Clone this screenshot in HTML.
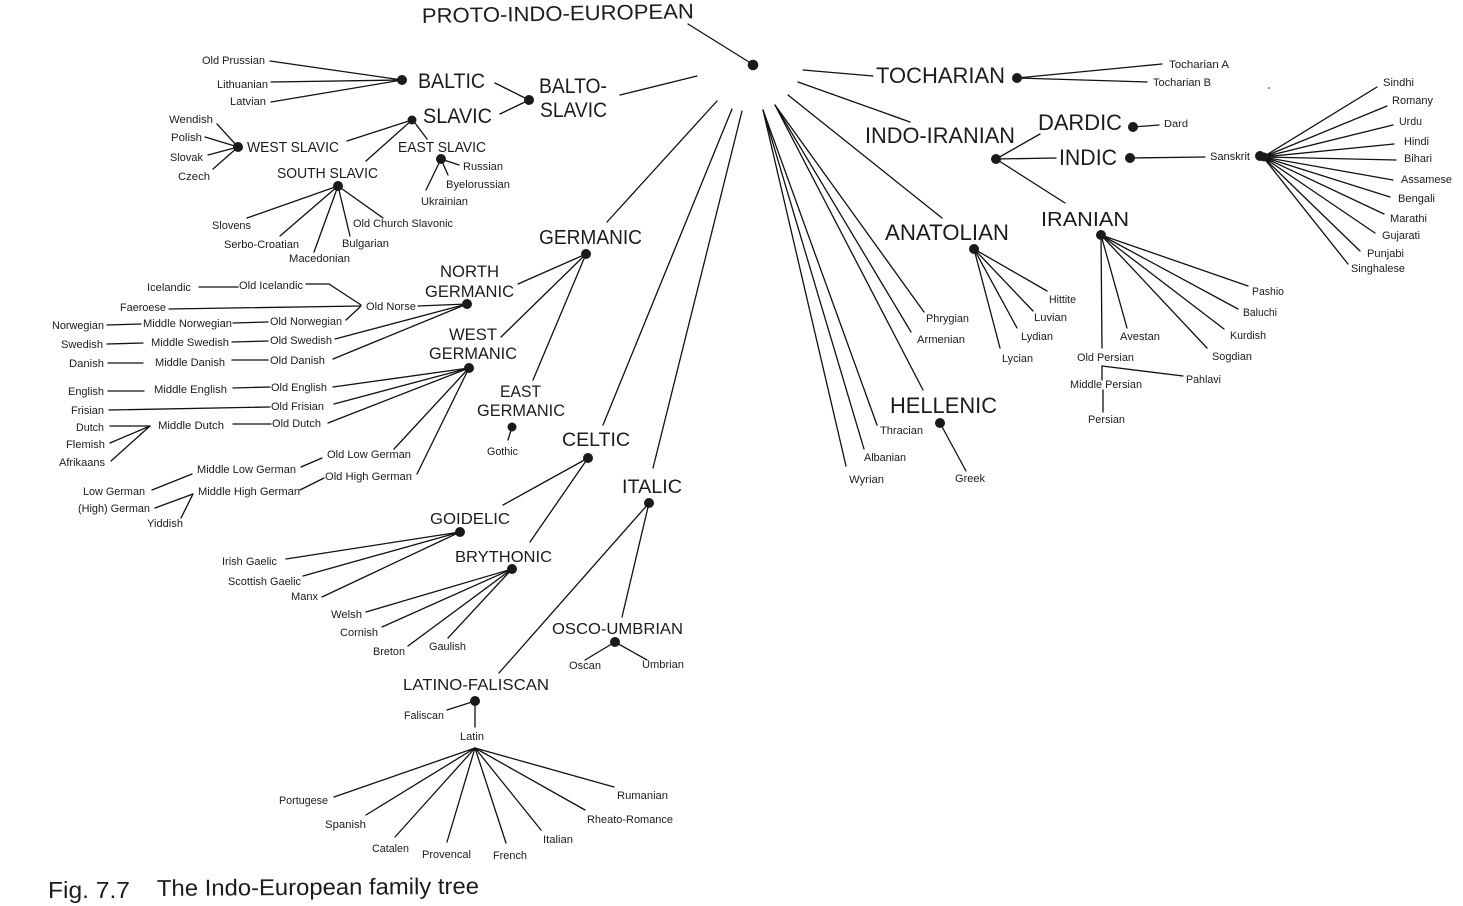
<!DOCTYPE html>
<html><head><meta charset="utf-8"><title>Indo-European family tree</title>
<style>
html,body{margin:0;padding:0;background:#fff;width:1463px;height:906px;overflow:hidden}
svg{display:block}
text{font-family:"Liberation Sans",Arial,sans-serif;fill:#1c1c1c}
.s{font-size:11px}
.t{font-size:15px}
.g{font-size:17px}
.b{font-size:21px}
.l line{stroke:#111;stroke-width:1.3;stroke-linecap:round}
.d circle{fill:#1a1a1a}
</style></head><body>
<svg xmlns="http://www.w3.org/2000/svg" width="1463" height="906" viewBox="0 0 1463 906">
<g class="l">
<line x1="688" y1="24" x2="749" y2="62"/><line x1="620" y1="95" x2="697" y2="76"/><line x1="607" y1="222" x2="717" y2="101"/><line x1="603" y1="425" x2="732" y2="109"/><line x1="653" y1="468" x2="742" y2="111"/>
<line x1="763" y1="110" x2="846" y2="466"/><line x1="763" y1="110" x2="864" y2="449"/><line x1="763" y1="110" x2="877" y2="425"/><line x1="775" y1="105" x2="923" y2="390"/><line x1="775" y1="105" x2="911" y2="332"/><line x1="775" y1="105" x2="924" y2="312"/><line x1="788" y1="95" x2="942" y2="218"/><line x1="798" y1="82" x2="910" y2="122"/><line x1="803" y1="70" x2="873" y2="76"/>
<line x1="1017" y1="78" x2="1162" y2="64"/><line x1="1017" y1="78" x2="1147" y2="82"/>
<line x1="996" y1="159" x2="1040" y2="134"/><line x1="996" y1="159" x2="1056" y2="158"/><line x1="996" y1="159" x2="1065" y2="203"/><line x1="1133" y1="127" x2="1159" y2="125"/><line x1="1130" y1="158" x2="1205" y2="157"/>
<line x1="1263" y1="157" x2="1377" y2="87"/><line x1="1263" y1="157" x2="1387" y2="106"/><line x1="1263" y1="157" x2="1393" y2="125"/><line x1="1263" y1="157" x2="1394" y2="144"/><line x1="1263" y1="157" x2="1396" y2="160"/><line x1="1263" y1="157" x2="1393" y2="180"/><line x1="1263" y1="157" x2="1390" y2="197"/><line x1="1263" y1="157" x2="1384" y2="214"/><line x1="1263" y1="157" x2="1375" y2="233"/><line x1="1263" y1="157" x2="1360" y2="251"/><line x1="1263" y1="157" x2="1348" y2="264"/>
<line x1="1101" y1="235" x2="1248" y2="286"/><line x1="1101" y1="235" x2="1238" y2="309"/><line x1="1101" y1="235" x2="1224" y2="329"/><line x1="1101" y1="235" x2="1207" y2="348"/><line x1="1101" y1="235" x2="1127" y2="328"/><line x1="1101" y1="235" x2="1102" y2="348"/>
<line x1="1102" y1="366" x2="1102" y2="380"/><line x1="1102" y1="366" x2="1183" y2="376"/><line x1="1103" y1="390" x2="1103" y2="412"/>
<line x1="974" y1="249" x2="1047" y2="291"/><line x1="974" y1="249" x2="1033" y2="311"/><line x1="974" y1="249" x2="1017" y2="328"/><line x1="974" y1="249" x2="1000" y2="348"/><line x1="940" y1="423" x2="966" y2="471"/>
<line x1="495" y1="83" x2="529" y2="100"/><line x1="500" y1="114" x2="529" y2="100"/>
<line x1="402" y1="80" x2="270" y2="61"/><line x1="402" y1="80" x2="271" y2="82"/><line x1="402" y1="80" x2="271" y2="102"/>
<line x1="412" y1="120" x2="347" y2="141"/><line x1="412" y1="120" x2="366" y2="161"/><line x1="415" y1="123" x2="427" y2="139"/>
<line x1="238" y1="147" x2="217" y2="124"/><line x1="238" y1="147" x2="205" y2="137"/><line x1="238" y1="147" x2="208" y2="155"/><line x1="238" y1="147" x2="213" y2="169"/>
<line x1="441" y1="159" x2="459" y2="165"/><line x1="441" y1="159" x2="448" y2="175"/><line x1="441" y1="159" x2="426" y2="190"/>
<line x1="338" y1="186" x2="247" y2="218"/><line x1="338" y1="186" x2="280" y2="236"/><line x1="338" y1="186" x2="314" y2="252"/><line x1="338" y1="186" x2="350" y2="236"/><line x1="338" y1="186" x2="383" y2="218"/>
<line x1="586" y1="254" x2="518" y2="284"/><line x1="586" y1="254" x2="501" y2="337"/><line x1="586" y1="254" x2="533" y2="380"/>
<line x1="467" y1="304" x2="418" y2="306"/><line x1="467" y1="304" x2="335" y2="339"/><line x1="467" y1="304" x2="333" y2="359"/>
<line x1="199" y1="287" x2="238" y2="287"/><line x1="306" y1="284" x2="329" y2="284"/><line x1="329" y1="284" x2="361" y2="305"/><line x1="169" y1="309" x2="361" y2="306"/><line x1="346" y1="320" x2="360" y2="307"/>
<line x1="107" y1="325" x2="141" y2="324"/><line x1="233" y1="323" x2="268" y2="322"/><line x1="107" y1="344" x2="143" y2="343"/><line x1="232" y1="342" x2="268" y2="341"/><line x1="108" y1="363" x2="143" y2="363"/><line x1="232" y1="360" x2="268" y2="360"/><line x1="108" y1="391" x2="144" y2="391"/><line x1="233" y1="388" x2="270" y2="387"/><line x1="109" y1="410" x2="270" y2="407"/>
<line x1="110" y1="426" x2="150" y2="426"/><line x1="110" y1="443" x2="150" y2="426"/><line x1="111" y1="461" x2="150" y2="426"/><line x1="233" y1="424" x2="271" y2="424"/>
<line x1="469" y1="368" x2="333" y2="387"/><line x1="469" y1="368" x2="334" y2="404"/><line x1="469" y1="368" x2="328" y2="423"/><line x1="469" y1="368" x2="394" y2="449"/><line x1="469" y1="368" x2="417" y2="474"/>
<line x1="301" y1="467" x2="322" y2="458"/><line x1="152" y1="490" x2="192" y2="474"/><line x1="300" y1="490" x2="324" y2="478"/><line x1="155" y1="508" x2="193" y2="494"/><line x1="181" y1="518" x2="193" y2="494"/>
<line x1="512" y1="427" x2="508" y2="440"/>
<line x1="588" y1="458" x2="503" y2="505"/><line x1="588" y1="458" x2="530" y2="542"/>
<line x1="460" y1="532" x2="286" y2="559"/><line x1="460" y1="532" x2="303" y2="576"/><line x1="460" y1="532" x2="322" y2="597"/>
<line x1="512" y1="569" x2="366" y2="612"/><line x1="512" y1="569" x2="382" y2="627"/><line x1="512" y1="569" x2="408" y2="646"/><line x1="512" y1="569" x2="448" y2="638"/>
<line x1="649" y1="503" x2="499" y2="673"/><line x1="649" y1="503" x2="622" y2="617"/>
<line x1="615" y1="642" x2="585" y2="660"/><line x1="615" y1="642" x2="647" y2="660"/>
<line x1="475" y1="701" x2="447" y2="710"/><line x1="475" y1="701" x2="475" y2="727"/>
<line x1="475" y1="748" x2="334" y2="797"/><line x1="475" y1="748" x2="366" y2="815"/><line x1="475" y1="748" x2="395" y2="837"/><line x1="475" y1="748" x2="447" y2="842"/><line x1="475" y1="748" x2="506" y2="843"/><line x1="475" y1="748" x2="541" y2="830"/><line x1="475" y1="748" x2="585" y2="810"/><line x1="475" y1="748" x2="614" y2="787"/>
</g>
<g class="d">
<circle cx="753" cy="65" r="5.3"/><circle cx="402" cy="80" r="5"/><circle cx="529" cy="100" r="5"/><circle cx="412" cy="120" r="4.5"/><circle cx="238" cy="147" r="5"/><circle cx="441" cy="159" r="5"/><circle cx="338" cy="186" r="5"/><circle cx="586" cy="254" r="5"/><circle cx="467" cy="304" r="5"/><circle cx="469" cy="368" r="5"/><circle cx="512" cy="427" r="4.5"/><circle cx="588" cy="458" r="5"/><circle cx="649" cy="503" r="5"/><circle cx="460" cy="532" r="5"/><circle cx="512" cy="569" r="5"/><circle cx="615" cy="642" r="5"/><circle cx="475" cy="701" r="5"/>
<circle cx="1017" cy="78" r="5"/><circle cx="996" cy="159" r="5"/><circle cx="1133" cy="127" r="5"/><circle cx="1130" cy="158" r="5"/><circle cx="1260" cy="156" r="5"/><circle cx="1264" cy="157" r="4.5"/><circle cx="1101" cy="235" r="5"/><circle cx="974" cy="249" r="5"/><circle cx="940" cy="423" r="5"/><circle cx="1269" cy="88" r="0.8"/>
</g>
<g>
<text class="b" x="422" y="23" textLength="272" lengthAdjust="spacingAndGlyphs" transform="rotate(-1 422 23)">PROTO-INDO-EUROPEAN</text>
<text class="b" x="418" y="88" textLength="67" lengthAdjust="spacingAndGlyphs">BALTIC</text>
<text class="b" x="539" y="93" textLength="68" lengthAdjust="spacingAndGlyphs">BALTO-</text>
<text class="b" x="540" y="117" textLength="67" lengthAdjust="spacingAndGlyphs">SLAVIC</text>
<text class="b" x="423" y="123" textLength="69" lengthAdjust="spacingAndGlyphs">SLAVIC</text>
<text class="t" x="247" y="152" textLength="92" lengthAdjust="spacingAndGlyphs">WEST SLAVIC</text>
<text class="t" x="398" y="152" textLength="88" lengthAdjust="spacingAndGlyphs">EAST SLAVIC</text>
<text class="t" x="277" y="178" textLength="101" lengthAdjust="spacingAndGlyphs">SOUTH SLAVIC</text>
<text class="b" style="font-size:20px" x="539" y="244" textLength="103" lengthAdjust="spacingAndGlyphs">GERMANIC</text>
<text class="g" x="440" y="277" textLength="59" lengthAdjust="spacingAndGlyphs">NORTH</text>
<text class="g" x="425" y="297" textLength="89" lengthAdjust="spacingAndGlyphs">GERMANIC</text>
<text class="g" x="449" y="340" textLength="48" lengthAdjust="spacingAndGlyphs">WEST</text>
<text class="g" x="429" y="359" textLength="88" lengthAdjust="spacingAndGlyphs">GERMANIC</text>
<text class="g" x="500" y="397" textLength="41" lengthAdjust="spacingAndGlyphs">EAST</text>
<text class="g" x="477" y="416" textLength="88" lengthAdjust="spacingAndGlyphs">GERMANIC</text>
<text class="b" style="font-size:19px" x="562" y="446" textLength="68" lengthAdjust="spacingAndGlyphs">CELTIC</text>
<text class="b" style="font-size:19px" x="622" y="493" textLength="60" lengthAdjust="spacingAndGlyphs">ITALIC</text>
<text class="g" style="font-size:16px" x="430" y="524" textLength="80" lengthAdjust="spacingAndGlyphs">GOIDELIC</text>
<text class="g" style="font-size:16px" x="455" y="562" textLength="97" lengthAdjust="spacingAndGlyphs">BRYTHONIC</text>
<text class="g" style="font-size:16px" x="552" y="634" textLength="131" lengthAdjust="spacingAndGlyphs">OSCO-UMBRIAN</text>
<text class="g" style="font-size:16px" x="403" y="690" textLength="146" lengthAdjust="spacingAndGlyphs">LATINO-FALISCAN</text>
<text class="b" style="font-size:22px" x="876" y="83" textLength="129" lengthAdjust="spacingAndGlyphs">TOCHARIAN</text>
<text class="b" style="font-size:22px" x="865" y="143" textLength="150" lengthAdjust="spacingAndGlyphs">INDO-IRANIAN</text>
<text class="b" style="font-size:22px" x="1038" y="130" textLength="84" lengthAdjust="spacingAndGlyphs">DARDIC</text>
<text class="b" style="font-size:22px" x="1059" y="165" textLength="58" lengthAdjust="spacingAndGlyphs">INDIC</text>
<text class="b" style="font-size:20px" x="1041" y="226" textLength="88" lengthAdjust="spacingAndGlyphs">IRANIAN</text>
<text class="b" style="font-size:22px" x="885" y="240" textLength="124" lengthAdjust="spacingAndGlyphs">ANATOLIAN</text>
<text class="b" style="font-size:22px" x="890" y="413" textLength="107" lengthAdjust="spacingAndGlyphs">HELLENIC</text>
<text style="font-size:23px" x="48" y="898" textLength="82" lengthAdjust="spacingAndGlyphs">Fig. 7.7</text>
<text style="font-size:23px" x="157" y="896" textLength="322" lengthAdjust="spacingAndGlyphs" transform="rotate(-0.4 157 896)">The Indo-European family tree</text>
</g>
<g>
<text class="s" x="202" y="64" textLength="63" lengthAdjust="spacingAndGlyphs">Old Prussian</text>
<text class="s" x="217" y="88" textLength="51" lengthAdjust="spacingAndGlyphs">Lithuanian</text>
<text class="s" x="230" y="105" textLength="36" lengthAdjust="spacingAndGlyphs">Latvian</text>
<text class="s" x="169" y="123" textLength="44" lengthAdjust="spacingAndGlyphs">Wendish</text>
<text class="s" x="171" y="141" textLength="31" lengthAdjust="spacingAndGlyphs">Polish</text>
<text class="s" x="170" y="161" textLength="33" lengthAdjust="spacingAndGlyphs">Slovak</text>
<text class="s" x="178" y="180" textLength="32" lengthAdjust="spacingAndGlyphs">Czech</text>
<text class="s" x="463" y="170" textLength="40" lengthAdjust="spacingAndGlyphs">Russian</text>
<text class="s" x="446" y="188" textLength="64" lengthAdjust="spacingAndGlyphs">Byelorussian</text>
<text class="s" x="421" y="205" textLength="47" lengthAdjust="spacingAndGlyphs">Ukrainian</text>
<text class="s" x="212" y="229" textLength="39" lengthAdjust="spacingAndGlyphs">Slovens</text>
<text class="s" x="224" y="248" textLength="75" lengthAdjust="spacingAndGlyphs">Serbo-Croatian</text>
<text class="s" x="289" y="262" textLength="61" lengthAdjust="spacingAndGlyphs">Macedonian</text>
<text class="s" x="342" y="247" textLength="47" lengthAdjust="spacingAndGlyphs">Bulgarian</text>
<text class="s" x="353" y="227" textLength="100" lengthAdjust="spacingAndGlyphs">Old Church Slavonic</text>
<text class="s" x="147" y="291" textLength="44" lengthAdjust="spacingAndGlyphs">Icelandic</text>
<text class="s" x="239" y="289" textLength="64" lengthAdjust="spacingAndGlyphs">Old Icelandic</text>
<text class="s" x="120" y="311" textLength="46" lengthAdjust="spacingAndGlyphs">Faeroese</text>
<text class="s" x="366" y="310" textLength="50" lengthAdjust="spacingAndGlyphs">Old Norse</text>
<text class="s" x="52" y="329" textLength="52" lengthAdjust="spacingAndGlyphs">Norwegian</text>
<text class="s" x="143" y="327" textLength="89" lengthAdjust="spacingAndGlyphs">Middle Norwegian</text>
<text class="s" x="270" y="325" textLength="72" lengthAdjust="spacingAndGlyphs">Old Norwegian</text>
<text class="s" x="61" y="348" textLength="42" lengthAdjust="spacingAndGlyphs">Swedish</text>
<text class="s" x="151" y="346" textLength="78" lengthAdjust="spacingAndGlyphs">Middle Swedish</text>
<text class="s" x="270" y="344" textLength="62" lengthAdjust="spacingAndGlyphs">Old Swedish</text>
<text class="s" x="69" y="367" textLength="35" lengthAdjust="spacingAndGlyphs">Danish</text>
<text class="s" x="155" y="366" textLength="70" lengthAdjust="spacingAndGlyphs">Middle Danish</text>
<text class="s" x="270" y="364" textLength="55" lengthAdjust="spacingAndGlyphs">Old Danish</text>
<text class="s" x="68" y="395" textLength="36" lengthAdjust="spacingAndGlyphs">English</text>
<text class="s" x="154" y="393" textLength="73" lengthAdjust="spacingAndGlyphs">Middle English</text>
<text class="s" x="271" y="391" textLength="56" lengthAdjust="spacingAndGlyphs">Old English</text>
<text class="s" x="71" y="414" textLength="33" lengthAdjust="spacingAndGlyphs">Frisian</text>
<text class="s" x="271" y="410" textLength="53" lengthAdjust="spacingAndGlyphs">Old Frisian</text>
<text class="s" x="76" y="431" textLength="28" lengthAdjust="spacingAndGlyphs">Dutch</text>
<text class="s" x="158" y="429" textLength="66" lengthAdjust="spacingAndGlyphs">Middle Dutch</text>
<text class="s" x="272" y="427" textLength="49" lengthAdjust="spacingAndGlyphs">Old Dutch</text>
<text class="s" x="66" y="448" textLength="39" lengthAdjust="spacingAndGlyphs">Flemish</text>
<text class="s" x="59" y="466" textLength="46" lengthAdjust="spacingAndGlyphs">Afrikaans</text>
<text class="s" x="327" y="458" textLength="84" lengthAdjust="spacingAndGlyphs">Old Low German</text>
<text class="s" x="197" y="473" textLength="99" lengthAdjust="spacingAndGlyphs">Middle Low German</text>
<text class="s" x="325" y="480" textLength="87" lengthAdjust="spacingAndGlyphs">Old High German</text>
<text class="s" x="198" y="495" textLength="102" lengthAdjust="spacingAndGlyphs">Middle High German</text>
<text class="s" x="83" y="495" textLength="62" lengthAdjust="spacingAndGlyphs">Low German</text>
<text class="s" x="78" y="512" textLength="72" lengthAdjust="spacingAndGlyphs">(High) German</text>
<text class="s" x="147" y="527" textLength="36" lengthAdjust="spacingAndGlyphs">Yiddish</text>
<text class="s" x="487" y="455" textLength="31" lengthAdjust="spacingAndGlyphs">Gothic</text>
<text class="s" x="222" y="565" textLength="55" lengthAdjust="spacingAndGlyphs">Irish Gaelic</text>
<text class="s" x="228" y="585" textLength="73" lengthAdjust="spacingAndGlyphs">Scottish Gaelic</text>
<text class="s" x="291" y="600" textLength="27" lengthAdjust="spacingAndGlyphs">Manx</text>
<text class="s" x="331" y="618" textLength="31" lengthAdjust="spacingAndGlyphs">Welsh</text>
<text class="s" x="340" y="636" textLength="38" lengthAdjust="spacingAndGlyphs">Cornish</text>
<text class="s" x="373" y="655" textLength="32" lengthAdjust="spacingAndGlyphs">Breton</text>
<text class="s" x="429" y="650" textLength="37" lengthAdjust="spacingAndGlyphs">Gaulish</text>
<text class="s" x="569" y="669" textLength="32" lengthAdjust="spacingAndGlyphs">Oscan</text>
<text class="s" x="642" y="668" textLength="42" lengthAdjust="spacingAndGlyphs">Umbrian</text>
<text class="s" x="404" y="719" textLength="40" lengthAdjust="spacingAndGlyphs">Faliscan</text>
<text class="s" x="460" y="740" textLength="24" lengthAdjust="spacingAndGlyphs">Latin</text>
<text class="s" x="279" y="804" textLength="49" lengthAdjust="spacingAndGlyphs">Portugese</text>
<text class="s" x="325" y="828" textLength="41" lengthAdjust="spacingAndGlyphs">Spanish</text>
<text class="s" x="372" y="852" textLength="37" lengthAdjust="spacingAndGlyphs">Catalen</text>
<text class="s" x="422" y="858" textLength="49" lengthAdjust="spacingAndGlyphs">Provencal</text>
<text class="s" x="493" y="859" textLength="34" lengthAdjust="spacingAndGlyphs">French</text>
<text class="s" x="543" y="843" textLength="30" lengthAdjust="spacingAndGlyphs">Italian</text>
<text class="s" x="587" y="823" textLength="86" lengthAdjust="spacingAndGlyphs">Rheato-Romance</text>
<text class="s" x="617" y="799" textLength="51" lengthAdjust="spacingAndGlyphs">Rumanian</text>
<text class="s" x="926" y="322" textLength="43" lengthAdjust="spacingAndGlyphs">Phrygian</text>
<text class="s" x="917" y="343" textLength="48" lengthAdjust="spacingAndGlyphs">Armenian</text>
<text class="s" x="880" y="434" textLength="43" lengthAdjust="spacingAndGlyphs">Thracian</text>
<text class="s" x="864" y="461" textLength="42" lengthAdjust="spacingAndGlyphs">Albanian</text>
<text class="s" x="849" y="483" textLength="35" lengthAdjust="spacingAndGlyphs">Wyrian</text>
<text class="s" x="955" y="482" textLength="30" lengthAdjust="spacingAndGlyphs">Greek</text>
<text class="s" x="1049" y="303" textLength="27" lengthAdjust="spacingAndGlyphs">Hittite</text>
<text class="s" x="1034" y="321" textLength="33" lengthAdjust="spacingAndGlyphs">Luvian</text>
<text class="s" x="1021" y="340" textLength="32" lengthAdjust="spacingAndGlyphs">Lydian</text>
<text class="s" x="1002" y="362" textLength="31" lengthAdjust="spacingAndGlyphs">Lycian</text>
<text class="s" x="1120" y="340" textLength="40" lengthAdjust="spacingAndGlyphs">Avestan</text>
<text class="s" x="1077" y="361" textLength="57" lengthAdjust="spacingAndGlyphs">Old Persian</text>
<text class="s" x="1070" y="388" textLength="72" lengthAdjust="spacingAndGlyphs">Middle Persian</text>
<text class="s" x="1186" y="383" textLength="35" lengthAdjust="spacingAndGlyphs">Pahlavi</text>
<text class="s" x="1088" y="423" textLength="37" lengthAdjust="spacingAndGlyphs">Persian</text>
<text class="s" x="1252" y="295" textLength="32" lengthAdjust="spacingAndGlyphs">Pashio</text>
<text class="s" x="1243" y="316" textLength="34" lengthAdjust="spacingAndGlyphs">Baluchi</text>
<text class="s" x="1230" y="339" textLength="36" lengthAdjust="spacingAndGlyphs">Kurdish</text>
<text class="s" x="1212" y="360" textLength="40" lengthAdjust="spacingAndGlyphs">Sogdian</text>
<text class="s" x="1169" y="68" textLength="60" lengthAdjust="spacingAndGlyphs">Tocharian A</text>
<text class="s" x="1153" y="86" textLength="58" lengthAdjust="spacingAndGlyphs">Tocharian B</text>
<text class="s" style="font-size:10px" x="1164" y="127" textLength="24" lengthAdjust="spacingAndGlyphs">Dard</text>
<text class="s" x="1210" y="160" textLength="40" lengthAdjust="spacingAndGlyphs">Sanskrit</text>
<text class="s" x="1383" y="86" textLength="31" lengthAdjust="spacingAndGlyphs">Sindhi</text>
<text class="s" x="1392" y="104" textLength="41" lengthAdjust="spacingAndGlyphs">Romany</text>
<text class="s" x="1399" y="125" textLength="23" lengthAdjust="spacingAndGlyphs">Urdu</text>
<text class="s" x="1404" y="145" textLength="25" lengthAdjust="spacingAndGlyphs">Hindi</text>
<text class="s" x="1404" y="162" textLength="28" lengthAdjust="spacingAndGlyphs">Bihari</text>
<text class="s" x="1401" y="183" textLength="51" lengthAdjust="spacingAndGlyphs">Assamese</text>
<text class="s" x="1398" y="202" textLength="37" lengthAdjust="spacingAndGlyphs">Bengali</text>
<text class="s" x="1390" y="222" textLength="37" lengthAdjust="spacingAndGlyphs">Marathi</text>
<text class="s" x="1382" y="239" textLength="38" lengthAdjust="spacingAndGlyphs">Gujarati</text>
<text class="s" x="1367" y="257" textLength="37" lengthAdjust="spacingAndGlyphs">Punjabi</text>
<text class="s" x="1351" y="272" textLength="54" lengthAdjust="spacingAndGlyphs">Singhalese</text>
</g>
</svg>
</body></html>
